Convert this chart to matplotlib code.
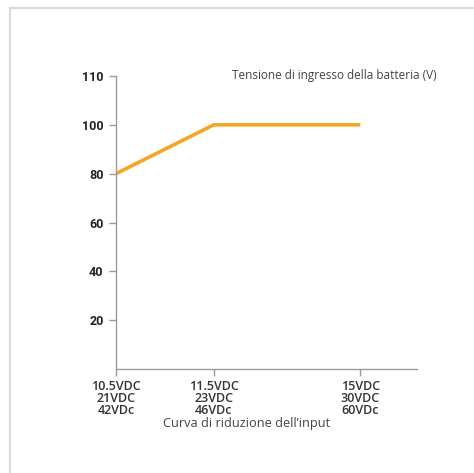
import matplotlib
matplotlib.use("Agg")
import matplotlib.pyplot as plt
import numpy as np

# data
x_labels = ["10.5VDC\n21VDC\n42VDc", "11.5VDC\n23VDC\n46VDc", "15VDC\n30VDC\n60VDc"]
x_volts = [10.5, 11.5, 15]
y_values = [80, 100, 100]
y_ticks = [0, 20, 40, 60, 80, 100, 110]

# the axes place categories / ticks at even steps, not to scale
x_pos = [0, 1, 2.5]
y_pos = [0, 1, 2, 3, 4, 5, 6]

plt.rcParams["font.family"] = ["Open Sans", "DejaVu Sans"]

fig = plt.figure(figsize=(4.74, 4.73), dpi=100)
W, H = 474, 473

# light frame (top and left edges only)
fig.add_artist(plt.Line2D([9.5 / W, 1], [1 - 8.5 / H] * 2, color="#d9dde1", lw=1.6))
fig.add_artist(plt.Line2D([9.5 / W] * 2, [0, 1 - 8.5 / H], color="#d9dde1", lw=1.6))

ax = fig.add_axes([116 / W, 1 - 369 / H, (417 - 116) / W, (369 - 76) / H])
line_y = np.interp(y_values, y_ticks, y_pos)
ax.plot(x_pos, line_y, color="#f5a623", lw=2.6, solid_capstyle="butt")

ax.set_xlim(0, 3.08)
ax.set_ylim(0, 6)
ax.set_yticks(y_pos[1:])
ax.set_yticklabels([str(v) for v in y_ticks[1:]], fontweight="bold", fontsize=9,
                   family=["Roboto", "DejaVu Sans"])
ax.set_xticks(x_pos)
ax.set_xticklabels(x_labels, fontweight="semibold", fontsize=9, linespacing=0.9)

for s in ["top", "right"]:
    ax.spines[s].set_visible(False)
for s in ["left", "bottom"]:
    ax.spines[s].set_color("#9a9a9a")
    ax.spines[s].set_linewidth(1.0)
ax.tick_params(axis="both", colors="#9a9a9a", length=5, width=1.0)
ax.tick_params(axis="y", pad=4, labelcolor="#222222")
ax.tick_params(axis="x", pad=3, labelcolor="#333333")

fig.text(232 / W, 1 - 75 / H, "Tensione di ingresso della batteria (V)",
         fontsize=8.5, color="#444444", va="center", ha="left")
fig.text(247 / W, 1 - 423 / H, "Curva di riduzione dell’input",
         fontsize=9.2, color="#444444", va="center", ha="center")

fig.savefig("out.png", dpi=100, facecolor="white")
